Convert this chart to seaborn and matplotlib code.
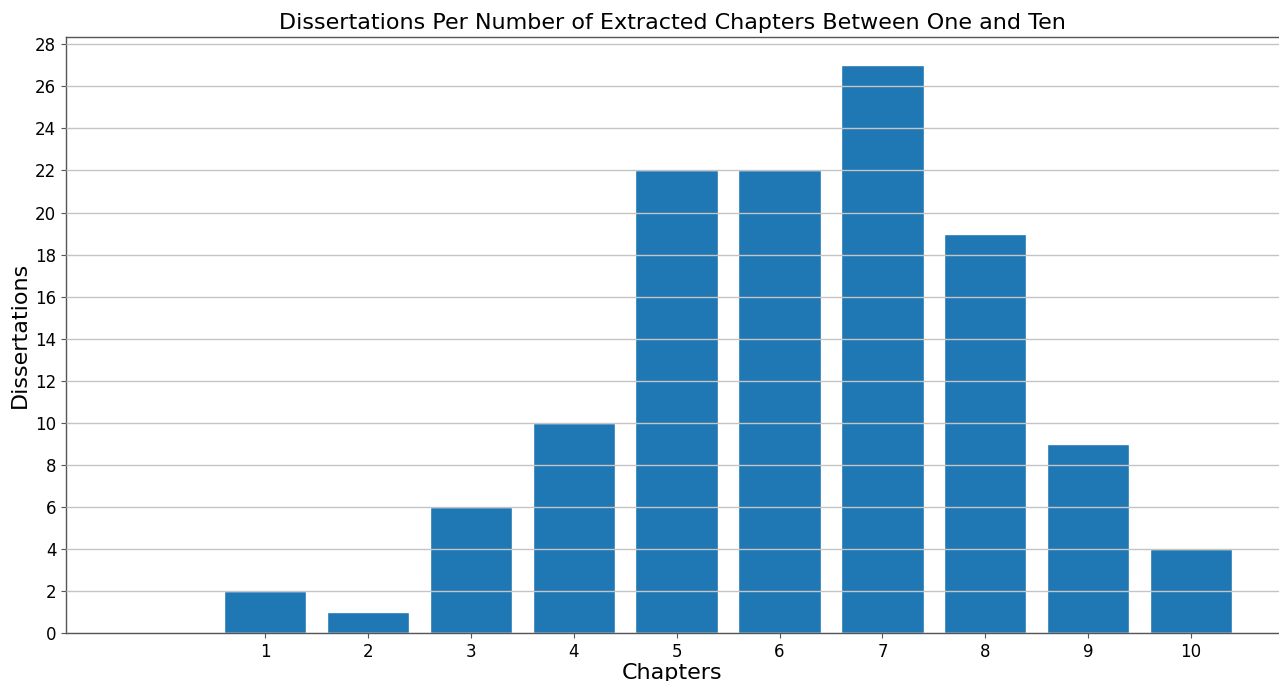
import matplotlib
matplotlib.use("Agg")
import matplotlib.pyplot as plt
import pandas as pd
import seaborn as sns

# chapters extracted vs number of dissertations
chapters = [1, 2, 3, 4, 5, 6, 7, 8, 9, 10]
dissertations = [2, 1, 6, 10, 22, 22, 27, 19, 9, 4]

df = pd.DataFrame({"chapters": chapters, "dissertations": dissertations})

sns.set_style("white")
plt.rcParams['font.family'] = ['DejaVu Sans']
plt.rcParams['text.color'] = 'black'
plt.rcParams['axes.labelcolor'] = 'black'
plt.rcParams['xtick.color'] = 'black'
plt.rcParams['ytick.color'] = 'black'

fig = plt.figure(figsize=(12.79, 6.81), dpi=100)
ax = fig.add_axes([0.0516, 0.0705, 0.9484, 0.8752])

sns.barplot(data=df, x="chapters", y="dissertations", native_scale=True,
            color="#1f77b4", saturation=1, width=0.8, ax=ax)

ax.set_xlim(-0.934, 10.854)
ax.set_ylim(0, 28.35)
ax.set_xticks(chapters)
ax.set_yticks(range(0, 29, 2))
ax.tick_params(axis="both", labelsize=12, length=3.5, width=0.8,
               bottom=True, left=True)
ax.tick_params(axis="both", color="#555555")

# grid lines sit above the bars
ax.yaxis.grid(True, color="#c4c4c4", linewidth=1)
ax.set_axisbelow(False)
for side in ["left", "bottom", "top"]:
    ax.spines[side].set_color("#555555")
    ax.spines[side].set_linewidth(1)
ax.spines["right"].set_visible(False)

ax.set_title("Dissertations Per Number of Extracted Chapters Between One and Ten", fontsize=16)
ax.set_xlabel("Chapters", fontsize=16, labelpad=2)
ax.set_ylabel("Dissertations", fontsize=16, labelpad=4)

fig.savefig("out.png", dpi=100)
